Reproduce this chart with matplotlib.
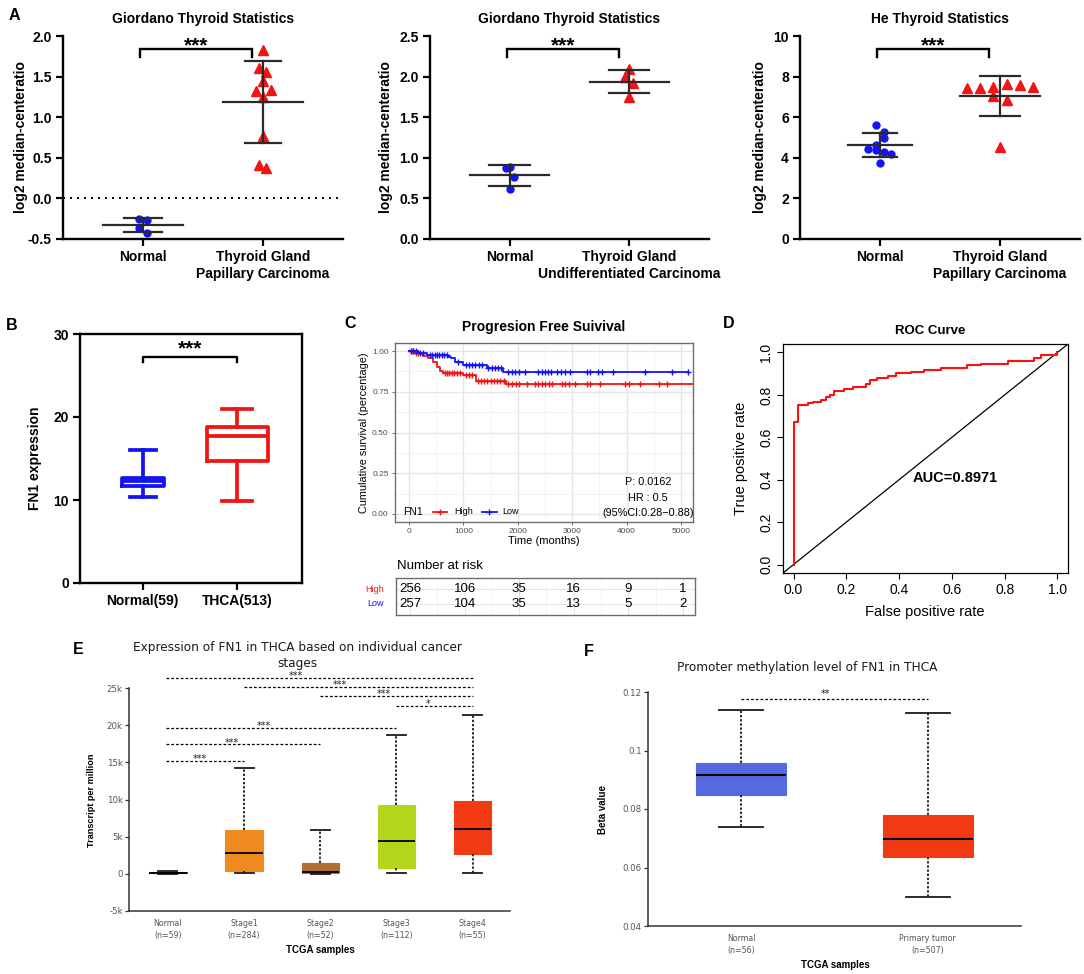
import numpy as np
import matplotlib
matplotlib.use("Agg")
import matplotlib.pyplot as plt
from matplotlib.transforms import blended_transform_factory as blend

plt.rcParams['font.family'] = ['Liberation Sans', 'DejaVu Sans']

# ============================ DATA ============================
# Panel A (three scatter plots, log2 median-centered ratio)
a_titles = ["Giordano Thyroid Statistics", "Giordano Thyroid Statistics", "He Thyroid Statistics"]
a_xlabels = [["Normal", "Thyroid Gland\nPapillary Carcinoma"],
             ["Normal", "Thyroid Gland\nUndifferentiated Carcinoma"],
             ["Normal", "Thyroid Gland\nPapillary Carcinoma"]]
a1_normal = [-0.25, -0.26, -0.36, -0.43]
a1_tumor = [1.83, 1.60, 1.56, 1.45, 1.32, 1.34, 1.25, 0.77, 0.41, 0.37]
a2_normal = [0.87, 0.89, 0.76, 0.61]
a2_tumor = [2.09, 1.99, 1.92, 1.75]
a3_normal = [5.62, 5.26, 5.00, 4.65, 4.42, 4.36, 4.29, 4.21, 3.73]
a3_tumor = [7.45, 7.42, 7.48, 7.65, 7.57, 7.50, 7.04, 6.84, 4.52]
a_yticks = [[-0.5, 0.0, 0.5, 1.0, 1.5, 2.0],
            [0.0, 0.5, 1.0, 1.5, 2.0, 2.5],
            [0, 2, 4, 6, 8, 10]]
a_ylabel = "log2 median-centeratio"

# Panel B (box plot, FN1 expression)
b_labels = ["Normal(59)", "THCA(513)"]
b_whislo = [10.35, 9.9]
b_q1 = [11.7, 14.7]
b_med = [12.3, 17.75]
b_q3 = [12.65, 18.8]
b_whishi = [16.0, 20.95]
b_yticks = [0, 10, 20, 30]

# Panel C (Kaplan-Meier, progression free survival)
km_high_t = [0, 110, 200, 265, 355, 450, 510, 570, 630, 1000, 1230, 1790]
km_high_s = [1.0, 0.99, 0.98, 0.97, 0.955, 0.935, 0.905, 0.877, 0.863, 0.853, 0.815, 0.80]
km_high_end = 5230
km_low_t = [0, 170, 325, 725, 780, 850, 1000, 1430, 1735]
km_low_s = [1.0, 0.986, 0.975, 0.965, 0.955, 0.935, 0.914, 0.894, 0.869]
km_low_end = 5130
km_high_cens = [40, 80, 130, 170, 660, 700, 740, 790, 830, 880, 930, 1050, 1100, 1150, 1260, 1320,
                1380, 1440, 1500, 1560, 1620, 1680, 1740, 1828, 1890, 1963, 2025, 2166, 2319, 2380,
                2442, 2503, 2577, 2626, 2810, 2871, 2933, 3055, 3270, 3319, 3515, 3975, 4037, 4252,
                4589, 4742]
km_low_cens = [40, 80, 120, 200, 250, 380, 420, 470, 520, 560, 600, 650, 700, 900, 1050, 1100,
               1160, 1220, 1280, 1340, 1460, 1520, 1580, 1640, 1700, 1828, 1890, 1951, 2025, 2135,
               2380, 2442, 2503, 2564, 2613, 2718, 2791, 2871, 2963, 3270, 3319, 3472, 3546, 3742,
               4344, 4834, 5129]
km_xticks = [0, 1000, 2000, 3000, 4000, 5000]
km_yticks = [0.0, 0.25, 0.5, 0.75, 1.0]
risk_high = [256, 106, 35, 16, 9, 1]
risk_low = [257, 104, 35, 13, 5, 2]
km_stats = ["P: 0.0162", "HR : 0.5", "(95%CI:0.28\u22120.88)"]

# Panel D (ROC curve)
roc_fpr = [0.0, 0.0, 0.0177, 0.053, 0.072, 0.104, 0.123, 0.139, 0.154, 0.192, 0.224, 0.274, 0.289,
           0.318, 0.356, 0.390, 0.444, 0.495, 0.558, 0.659, 0.710, 0.811, 0.912, 0.937, 1.0]
roc_tpr = [0.0, 0.674, 0.750, 0.762, 0.768, 0.778, 0.789, 0.800, 0.820, 0.827, 0.838, 0.850, 0.869,
           0.880, 0.890, 0.903, 0.910, 0.918, 0.926, 0.940, 0.948, 0.960, 0.975, 0.987, 1.0]
roc_auc = "AUC=0.8971"
roc_ticks = [0.0, 0.2, 0.4, 0.6, 0.8, 1.0]

# Panel E (UALCAN stage box plot)
e_labels = ["Normal\n(n=59)", "Stage1\n(n=284)", "Stage2\n(n=52)", "Stage3\n(n=112)", "Stage4\n(n=55)"]
e_whislo = [0, 50, 0, 50, 50]
e_q1 = [80, 350, 50, 850, 2700]
e_med = [150, 2850, 200, 4450, 6050]
e_q3 = [280, 5900, 1400, 9300, 9850]
e_whishi = [330, 14300, 5900, 18700, 21400]
e_colors = ["#2d3ad6", "#f08a1f", "#b06f36", "#b3d61b", "#f23b12"]
e_sig_pairs = [(1, 5), (2, 5), (3, 5), (4, 5), (1, 4), (1, 3), (1, 2)]
e_sig_y = [26350, 25200, 23900, 22600, 19600, 17400, 15200]
e_sig_text = ["***", "***", "***", "*", "***", "***", "***"]
e_yticks = [-5000, 0, 5000, 10000, 15000, 20000, 25000]
e_yticklabels = ["-5k", "0", "5k", "10k", "15k", "20k", "25k"]

# Panel F (UALCAN promoter methylation)
f_labels = ["Normal\n(n=56)", "Primary tumor\n(n=507)"]
f_whislo = [0.0738, 0.0499]
f_q1 = [0.0848, 0.0636]
f_med = [0.0917, 0.0699]
f_q3 = [0.0958, 0.0781]
f_whishi = [0.1138, 0.1127]
f_colors = ["#5569e0", "#f23a12"]
f_sig_y = 0.1177
f_sig_text = "**"
f_yticks = [0.04, 0.06, 0.08, 0.10, 0.12]
f_yticklabels = ["0.04", "0.06", "0.08", "0.1", "0.12"]

# ============================ FIGURE ============================
W, H = 1084, 974
fig = plt.figure(figsize=(W / 100, H / 100), dpi=100)
fig.patch.set_facecolor("white")
ARIAL = ["Liberation Sans", "DejaVu Sans"]
DEJ = ["DejaVu Sans"]
BLUE = "#1414f2"
RED = "#f21414"


def px_axes(l, t, r, b):
    return fig.add_axes([l / W, 1 - b / H, (r - l) / W, (b - t) / H])


def ftext(x, y, s, **kw):
    return fig.text(x / W, 1 - y / H, s, **kw)


# ---------- Panel letters ----------
for letter, (x, y) in zip("ABCDEF", [(14, 15), (12, 325), (350, 323), (729, 323), (78, 650), (589, 651)]):
    ftext(x, y, letter, fontsize=11.5, fontweight="bold", ha="center", va="center", family=ARIAL)

# ---------- Panel A ----------
a_boxes = [(63, 36, 343, 239), (430, 36, 709, 239), (800, 36, 1080, 239)]
a_ylab_x = [21, 386, 760]
a_normals = [a1_normal, a2_normal, a3_normal]
a_tumors = [a1_tumor, a2_tumor, a3_tumor]
a_jit = [([-0.03, 0.035, -0.03, 0.035], [0, -0.033, 0.028, 0, -0.06, 0.064, 0, 0, -0.033, 0.028]),
         ([-0.033, 0, 0.033, 0], [0, -0.033, 0.033, 0]),
         ([-0.03, 0.03, 0.03, -0.036, -0.097, -0.036, 0.03, 0.092, 0],
          [-0.275, -0.164, -0.056, 0.056, 0.167, 0.278, -0.056, 0.056, 0])]
a_wid = [((0.33, 0.16), (0.33, 0.15)), ((0.33, 0.17), (0.33, 0.167)), ((0.27, 0.14), (0.33, 0.17))]
BAR = "#2a2a2a"
for i in range(3):
    l, t, r, b = a_boxes[i]
    ax = px_axes(l, t, r, b)
    ax.set_xlim(1 - 80 / 120, 2 + 80 / 120)
    ax.set_ylim(a_yticks[i][0], a_yticks[i][-1])
    groups = [(1, a_normals[i], a_jit[i][0], a_wid[i][0], BLUE, "o", 5.0),
              (2, a_tumors[i], a_jit[i][1], a_wid[i][1], RED, "^", 7.2)]
    for x0, vals, jit, (mw, cw), col, mk, ms in groups:
        v = np.asarray(vals, float)
        m, s = v.mean(), v.std(ddof=1)
        ax.plot(x0 + np.asarray(jit), v, ls="none", marker=mk, ms=ms, color=col, mec=col, zorder=3, clip_on=False)
        ax.plot([x0 - mw, x0 + mw], [m, m], color=BAR, lw=1.6, zorder=4)
        for e in (m - s, m + s):
            ax.plot([x0 - cw, x0 + cw], [e, e], color=BAR, lw=1.6, zorder=4)
        ax.plot([x0, x0], [m - s, m + s], color=BAR, lw=1.6, zorder=4)
    if i == 0:
        ax.axhline(0, color="black", lw=1.4, ls=(0, (1, 2.6)))
    tr = blend(ax.transData, ax.transAxes)
    ax.plot([0.975, 0.975, 1.91, 1.91], [0.896, 0.936, 0.936, 0.896], color="black", lw=1.7,
            transform=tr, clip_on=False, solid_joinstyle="miter")
    ax.text((0.975 + 1.91) / 2, 0.95, "***", transform=tr, ha="center", va="center",
            fontsize=15, fontweight="bold", family=ARIAL)
    for sp in ("top", "right"):
        ax.spines[sp].set_visible(False)
    for sp in ("left", "bottom"):
        ax.spines[sp].set_linewidth(1.7)
    ax.set_xticks([1, 2])
    ax.set_xticklabels(a_xlabels[i], fontsize=10, fontweight="bold", linespacing=1.25)
    ax.set_yticks(a_yticks[i])
    fmt = (lambda v: f"{v:.1f}") if i < 2 else (lambda v: f"{int(v)}")
    ax.set_yticklabels([fmt(v) for v in a_yticks[i]], fontsize=10, fontweight="bold")
    ax.tick_params(direction="out", length=5, width=1.6, pad=3)
    ftext((l + r) / 2, 19, a_titles[i], fontsize=10, fontweight="bold", ha="center", va="center")
    ftext(a_ylab_x[i], (t + b) / 2, a_ylabel, fontsize=10, fontweight="bold", ha="center",
          va="center", rotation=90)

# ---------- Panel B ----------
ax = px_axes(80, 334, 302, 583)
b_w = [0.44, 0.64]
b_cw = [0.274, 0.32]
for i, col in enumerate([BLUE, RED]):
    st = dict(whislo=b_whislo[i], q1=b_q1[i], med=b_med[i], q3=b_q3[i], whishi=b_whishi[i], fliers=[])
    lp = dict(color=col, lw=2.7)
    ax.bxp([st], positions=[i + 1], widths=[b_w[i]], capwidths=[b_cw[i]], showfliers=False,
           boxprops=lp, whiskerprops=lp, capprops=lp, medianprops=lp, manage_ticks=False)
ax.set_xlim(1 - 63 / 95, 2 + 65 / 95)
ax.set_ylim(0, 30)
ax.set_xticks([1, 2])
ax.set_xticklabels(b_labels, fontsize=10, fontweight="bold")
ax.set_yticks(b_yticks)
ax.set_yticklabels([str(v) for v in b_yticks], fontsize=10, fontweight="bold")
for sp in ax.spines.values():
    sp.set_linewidth(1.7)
ax.tick_params(direction="out", length=5, width=1.6, pad=3, top=False, right=False)
tr = blend(ax.transData, ax.transAxes)
ax.plot([1, 1, 2, 2], [0.888, 0.908, 0.908, 0.888], color="black", lw=1.7, transform=tr, clip_on=False)
ax.text(1.5, 0.94, "***", transform=tr, ha="center", va="center", fontsize=15, fontweight="bold")
ftext(35, 458, "FN1 expression", fontsize=10, fontweight="bold", ha="center", va="center", rotation=90)

# ---------- Panel C ----------
ax = px_axes(395, 343, 693, 522)
xl = (-257, 5221)
ax.set_xlim(*xl)
ax.set_ylim(-0.05, 1.05)
ax.set_xticks(km_xticks)
ax.set_xticks([500, 1500, 2500, 3500, 4500], minor=True)
ax.set_yticks(km_yticks)
ax.set_yticklabels(["0.00", "0.25", "0.50", "0.75", "1.00"])
ax.set_yticks([0.125, 0.375, 0.625, 0.875], minor=True)
ax.grid(which="major", color="#e6e6e6", lw=1.0)
ax.grid(which="minor", color="#f0f0f0", lw=0.6)
ax.set_axisbelow(True)
for sp in ax.spines.values():
    sp.set_color("#6e6e6e")
    sp.set_linewidth(1.0)
ax.tick_params(which="major", length=2.5, width=0.6, color="#555555", labelsize=6, labelcolor="#4d4d4d", pad=2)
ax.tick_params(which="minor", length=0)


def km_draw(t, s, tend, cens, col):
    tt = np.r_[np.asarray(t, float), tend]
    ss = np.r_[np.asarray(s, float), s[-1]]
    ax.step(tt, ss, where="post", color=col, lw=1.3, zorder=3)
    idx = np.searchsorted(np.asarray(t, float), np.asarray(cens, float), side="right") - 1
    ax.plot(cens, np.asarray(s)[idx], ls="none", marker="+", ms=4.5, mew=1.0, color=col, zorder=3)


km_draw(km_high_t, km_high_s, km_high_end, km_high_cens, RED)
km_draw(km_low_t, km_low_s, km_low_end, km_low_cens, BLUE)
ax.set_xlabel("Time (months)", fontsize=8, labelpad=0.5)
ax.set_ylabel("Cumulative survival (percentage)", fontsize=7.8, labelpad=2)
ftext(544, 327, "Progresion Free Suivival", fontsize=10, fontweight="bold", ha="center", va="center")
# legend
ax.text(0.027, 0.056, "FN1", transform=ax.transAxes, fontsize=7.5, va="center", ha="left")
for (x1, x2, col, lab, lx) in [(0.128, 0.174, RED, "High", 0.198), (0.292, 0.342, BLUE, "Low", 0.359)]:
    ax.plot([x1, x2], [0.056, 0.056], color=col, lw=1.3, transform=ax.transAxes)
    ax.plot([(x1 + x2) / 2], [0.056], marker="+", ms=4.5, mew=1.0, color=col, transform=ax.transAxes)
    ax.text(lx, 0.056, lab, transform=ax.transAxes, fontsize=6.5, va="center", ha="left")
for txt, yy in zip(km_stats, [0.223, 0.134, 0.052]):
    ax.text(0.848, yy, txt, transform=ax.transAxes, fontsize=7.8, va="center", ha="center")

# risk table
axr = px_axes(396, 578, 695, 615)
axr.set_xlim(*xl)
axr.set_ylim(0, 2)
axr.set_xticks(km_xticks)
axr.set_xticks([500, 1500, 2500, 3500, 4500], minor=True)
axr.set_yticks([0.62, 1.38])
axr.grid(which="major", color="#e6e6e6", lw=0.8)
axr.grid(which="minor", color="#f0f0f0", lw=0.5)
axr.set_axisbelow(True)
axr.tick_params(which="both", length=0, labelbottom=False, labelleft=False)
for sp in axr.spines.values():
    sp.set_color("#6e6e6e")
    sp.set_linewidth(1.0)
for tx, nh, nl in zip(km_xticks, risk_high, risk_low):
    axr.text(tx, 1.38, str(nh), ha="center", va="center", fontsize=9.5)
    axr.text(tx, 0.62, str(nl), ha="center", va="center", fontsize=9.5)
ftext(384, 589, "High", color=RED, fontsize=6.5, ha="right", va="center")
ftext(384, 604, "Low", color=BLUE, fontsize=6.5, ha="right", va="center")
ftext(397, 566, "Number at risk", fontsize=9.5, ha="left", va="center")

# ---------- Panel D ----------
ax = px_axes(783, 344, 1068, 573)
ax.set_xlim(-0.04, 1.04)
ax.set_ylim(-0.04, 1.04)
ax.axline((0, 0), (1, 1), color="black", lw=0.9)
ax.plot(roc_fpr, roc_tpr, drawstyle="steps-post", color="#ff1010", lw=1.5)
ax.set_xticks(roc_ticks)
ax.set_yticks(roc_ticks)
ax.set_xticklabels([f"{v:.1f}" for v in roc_ticks])
ax.set_yticklabels([f"{v:.1f}" for v in roc_ticks], rotation=90, va="center")
ax.tick_params(direction="out", length=4.5, width=0.8, labelsize=10, pad=2.5)
for sp in ax.spines.values():
    sp.set_linewidth(0.9)
ax.text(0.452, 0.41, roc_auc, fontsize=10.5, fontweight="bold", ha="left", va="center")
ftext(930, 331, "ROC Curve", fontsize=9.5, fontweight="bold", ha="center", va="center")
ftext(925, 612, "False positive rate", fontsize=10.5, ha="center", va="center")
ftext(741, 458, "True positive rate", fontsize=10.5, ha="center", va="center", rotation=90)

# ---------- Panel E ----------
GR = "#555555"
ax = px_axes(129, 688, 510, 911)
for i in range(5):
    st = dict(whislo=e_whislo[i], q1=e_q1[i], med=e_med[i], q3=e_q3[i], whishi=e_whishi[i], fliers=[])
    ax.bxp([st], positions=[i + 1], widths=[0.49], capwidths=[0.25], showfliers=False, patch_artist=True,
           boxprops=dict(facecolor=e_colors[i], edgecolor=e_colors[i], lw=0.8),
           whiskerprops=dict(color="#1a1a1a", lw=1.3, ls=(0, (1.3, 1.0))),
           capprops=dict(color="#1a1a1a", lw=1.3),
           medianprops=dict(color="black", lw=1.3), manage_ticks=False)
ax.set_xlim(0.49, 5.49)
ax.set_ylim(-5000, 25000)
for (a, b), y, s in zip(e_sig_pairs, e_sig_y, e_sig_text):
    ax.plot([a - (0.03 if a == 1 else 0), b], [y, y], color="black", lw=0.9, ls=(0, (2.2, 1.6)), clip_on=False)
    ax.text(a + 0.42 * (b - a), y + 250, s, fontsize=7, ha="center", va="center", family=DEJ,
            color="#222222", clip_on=False)
for sp in ("top", "right"):
    ax.spines[sp].set_visible(False)
for sp in ("left", "bottom"):
    ax.spines[sp].set_linewidth(1.1)
    ax.spines[sp].set_color("#333333")
ax.set_xticks(range(1, 6))
ax.set_xticklabels(e_labels, fontsize=5.7, color=GR, family=DEJ, linespacing=1.35)
ax.set_yticks(e_yticks)
ax.set_yticklabels(e_yticklabels, fontsize=6.2, color=GR, family=DEJ)
ax.tick_params(axis="x", length=0, pad=6)
ax.tick_params(axis="y", length=3, width=0.9, color="#333333", pad=1.5)
ftext(297, 647, "Expression of FN1 in THCA based on individual cancer", fontsize=8.7, ha="center",
      va="center", family=DEJ, color="#1a1a1a")
ftext(297, 663, "stages", fontsize=8.7, ha="center", va="center", family=DEJ, color="#1a1a1a")
ftext(320, 950, "TCGA samples", fontsize=7, fontweight="bold", ha="center", va="center")
ftext(92, 800, "Transcript per million", fontsize=6.6, fontweight="bold", ha="center", va="center", rotation=90)

# ---------- Panel F ----------
ax = px_axes(648, 692, 1021, 926)
for i in range(2):
    st = dict(whislo=f_whislo[i], q1=f_q1[i], med=f_med[i], q3=f_q3[i], whishi=f_whishi[i], fliers=[])
    ax.bxp([st], positions=[i + 1], widths=[0.48], capwidths=[0.236], showfliers=False, patch_artist=True,
           boxprops=dict(facecolor=f_colors[i], edgecolor=f_colors[i], lw=0.8),
           whiskerprops=dict(color="#1a1a1a", lw=1.3, ls=(0, (1.3, 1.0))),
           capprops=dict(color="#1a1a1a", lw=1.3),
           medianprops=dict(color="black", lw=1.5), manage_ticks=False)
ax.set_xlim(0.5, 2.5)
ax.set_ylim(0.04, 0.12)
ax.plot([1, 2], [f_sig_y, f_sig_y], color="black", lw=0.9, ls=(0, (2.2, 1.6)), clip_on=False)
ax.text(1.45, f_sig_y + 0.0017, f_sig_text, fontsize=7, ha="center", va="center", family=DEJ,
        color="#222222", clip_on=False)
for sp in ("top", "right"):
    ax.spines[sp].set_visible(False)
for sp in ("left", "bottom"):
    ax.spines[sp].set_linewidth(1.1)
    ax.spines[sp].set_color("#333333")
ax.set_xticks([1, 2])
ax.set_xticklabels(f_labels, fontsize=5.7, color=GR, family=DEJ, linespacing=1.35)
ax.set_yticks(f_yticks)
ax.set_yticklabels(f_yticklabels, fontsize=6.2, color=GR, family=DEJ)
ax.tick_params(axis="x", length=0, pad=6)
ax.tick_params(axis="y", length=3, width=0.9, color="#333333", pad=1.5)
ftext(807, 667, "Promoter methylation level of FN1 in THCA", fontsize=8.7, ha="center", va="center",
      family=DEJ, color="#1a1a1a")
ftext(835, 965, "TCGA samples", fontsize=7, fontweight="bold", ha="center", va="center")
ftext(603, 809, "Beta value", fontsize=7, fontweight="bold", ha="center", va="center", rotation=90)

fig.savefig("out.png", dpi=100, facecolor="white")
